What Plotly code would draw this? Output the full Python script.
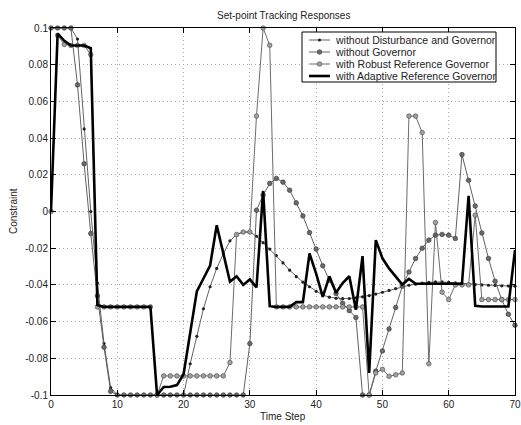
import plotly.graph_objects as go

# ---------------- data ----------------
time_step = list(range(0, 71))

without_dist_and_gov = [
    0.1, 0.1, 0.1, 0.1, 0.094, 0.045, 0.0, -0.039, -0.072, -0.096,
    -0.1, -0.1, -0.1, -0.1, -0.1, -0.1, -0.1, -0.1, -0.1, -0.1, -0.1,
    -0.083, -0.068, -0.053, -0.041, -0.031, -0.023, -0.016, -0.0125, -0.0112, -0.0112,
    -0.0135, -0.017, -0.0205, -0.024, -0.028, -0.032, -0.0355, -0.0385, -0.041, -0.0435,
    -0.0455, -0.0467, -0.0473, -0.0475, -0.0474, -0.047, -0.0465, -0.0458, -0.045, -0.044,
    -0.043, -0.042, -0.041, -0.0402, -0.0396, -0.039, -0.0386, -0.0384, -0.0384, -0.0386,
    -0.0389, -0.0392, -0.0395, -0.0398, -0.040, -0.0402, -0.0403, -0.0405, -0.0406, -0.0407,
]

without_gov = [
    0.1, 0.1, 0.1, 0.1, 0.069, 0.026, -0.012, -0.046, -0.074, -0.098,
    -0.1, -0.1, -0.1, -0.1, -0.1, -0.1, -0.1, -0.1, -0.1, -0.1,
    -0.1, -0.1, -0.1, -0.1, -0.1, -0.1, -0.1, -0.1, -0.1, -0.1,
    -0.072, 0.0007, 0.009, 0.0153, 0.018, 0.016, 0.0116, 0.0047, -0.0024, -0.0115,
    -0.0205, -0.0296, -0.0374, -0.0447, -0.050, -0.054, -0.0578, -0.1, -0.1, -0.087,
    -0.076, -0.064, -0.0523, -0.0407, -0.033, -0.0256, -0.020, -0.0156, -0.0129, -0.0125,
    -0.0129, -0.0147, 0.031, 0.017, 0.003, -0.0117, -0.0256, -0.038, -0.048, -0.056,
    -0.062,
]

robust_gov = [
    0.0, 0.096, 0.091, 0.0905, 0.0905, 0.0905, 0.0855,
    -0.052, -0.052, -0.052, -0.052, -0.052, -0.052, -0.052, -0.052, -0.052,
    -0.1,
    -0.0896, -0.0896, -0.0896, -0.0896, -0.0896, -0.0896, -0.0896, -0.0896, -0.0896, -0.0896,
    -0.0823,
    -0.0125, -0.0112, -0.0112,
    0.052, 0.1, 0.0906,
    -0.052, -0.052, -0.052, -0.052, -0.052, -0.052, -0.052, -0.052, -0.052, -0.052,
    -0.052, -0.052, -0.052, -0.052,
    -0.1, -0.088, -0.086, -0.0898, -0.089, -0.088,
    0.052, 0.052, 0.043,
    -0.083, -0.006, -0.044, -0.048,
    -0.040, -0.040, -0.040,
    -0.002,
    -0.048, -0.048, -0.048, -0.048, -0.048, -0.048,
]

adaptive_gov = [
    0.0, 0.097, 0.093, 0.0905, 0.0905, 0.0905, 0.089, -0.051,
    -0.052, -0.052, -0.052, -0.052, -0.052, -0.052, -0.052, -0.052,
    -0.1, -0.0956, -0.0955, -0.0946, -0.0887,
    -0.066, -0.0435, -0.0365, -0.0295, -0.0075,
    -0.023, -0.0383, -0.0353, -0.040, -0.037,
    -0.0414, 0.0112, -0.0516, -0.052, -0.052, -0.052,
    -0.0494, -0.0494, -0.0229, -0.0338,
    -0.0465, -0.0353, -0.0443, -0.039, -0.0353, -0.0535,
    -0.0243, -0.088, -0.0156, -0.0255,
    -0.031, -0.0353, -0.0398, -0.0367, -0.0394,
    -0.0394, -0.0394, -0.0394, -0.0394, -0.0394, -0.0394, -0.0394,
    0.0085, -0.0514,
    -0.0518, -0.0518, -0.0518, -0.0518, -0.0518,
    -0.021,
]

series_names = [
    "without Disturbance and Governor",
    "without Governor",
    "with Robust Reference Governor",
    "with Adaptive Reference Governor",
]

x_ticks = [0, 10, 20, 30, 40, 50, 60, 70]
y_ticks = [-0.1, -0.08, -0.06, -0.04, -0.02, 0, 0.02, 0.04, 0.06, 0.08, 0.1]
y_tick_labels = ["-0.1", "-0.08", "-0.06", "-0.04", "-0.02", "0",
                 "0.02", "0.04", "0.06", "0.08", "0.1"]

# ---------------- styles ----------------
FONT = "Liberation Sans, Arial, Helvetica, sans-serif"
TXT = "#222222"
styles = [
    dict(line=dict(color="#505050", width=0.9),
         marker=dict(symbol="circle", size=3.2, color="#222222")),
    dict(line=dict(color="#505050", width=0.9),
         marker=dict(symbol="circle", size=4.6, color="#6a6a6a",
                     line=dict(color="#333333", width=0.6))),
    dict(line=dict(color="#5a5a5a", width=0.9),
         marker=dict(symbol="circle", size=4.6, color="#a0a0a0",
                     line=dict(color="#444444", width=0.6))),
    dict(line=dict(color="#000000", width=2.6), marker=None),
]
all_series = [without_dist_and_gov, without_gov, robust_gov, adaptive_gov]

fig = go.Figure()
for name, ys, st in zip(series_names, all_series, styles):
    kw = dict(x=time_step, y=ys, name=name, showlegend=False, cliponaxis=False,
              line=st["line"], hoverinfo="skip")
    if st["marker"] is not None:
        kw["mode"] = "lines+markers"
        kw["marker"] = st["marker"]
    else:
        kw["mode"] = "lines"
    fig.add_trace(go.Scatter(**kw))

# ---------------- layout ----------------
W, H = 521, 425
ml, mr, mt, mb = 51, 6, 28, 30
pw, ph = W - ml - mr, H - mt - mb

def px_x(px):
    return (px - ml) / pw

def px_y(py):
    return (H - mb - py) / ph

fig.update_layout(
    width=W, height=H,
    margin=dict(l=ml, r=mr, t=mt, b=mb, pad=0, autoexpand=False),
    paper_bgcolor="white", plot_bgcolor="white",
    font=dict(family=FONT, size=10, color=TXT),
    showlegend=False,
)

axis_common = dict(
    showline=True, linecolor="black", linewidth=1, mirror="ticks",
    ticks="inside", ticklen=5, tickwidth=1, tickcolor="black",
    showgrid=True, gridcolor="#a8a8a8", griddash="1px,3px", gridwidth=1,
    zeroline=False, automargin=False, ticklabeloverflow="allow",
    tickfont=dict(family=FONT, size=10, color=TXT),
)
fig.update_xaxes(range=[0, 70], tickvals=x_ticks, **axis_common)
fig.update_yaxes(range=[-0.1, 0.1], tickvals=y_ticks, ticktext=y_tick_labels,
                 **axis_common)

# ---------------- titles as text ----------------
annotations = [
    dict(text="Set-point Tracking Responses", xref="paper", yref="paper",
         x=0.5, y=px_y(15), xanchor="center", yanchor="middle",
         showarrow=False, font=dict(family=FONT, size=10, color=TXT)),
    dict(text="Time Step", xref="paper", yref="paper",
         x=0.5, y=px_y(416), xanchor="center", yanchor="middle",
         showarrow=False, font=dict(family=FONT, size=10, color=TXT)),
    dict(text="Constraint", xref="paper", yref="paper",
         x=px_x(13), y=px_y(211), xanchor="center", yanchor="middle",
         textangle=-90, showarrow=False,
         font=dict(family=FONT, size=10, color=TXT)),
]

# ---------------- legend (drawn like the MATLAB box) ----------------
shapes = [dict(type="rect", xref="paper", yref="paper",
               x0=px_x(302), x1=px_x(496), y0=px_y(82), y1=px_y(32),
               line=dict(color="black", width=1), fillcolor="white", layer="above")]
row_y = [40, 52, 64, 76]
for i, (name, st) in enumerate(zip(series_names, styles)):
    yy = px_y(row_y[i])
    shapes.append(dict(type="line", xref="paper", yref="paper",
                       x0=px_x(309), x1=px_x(330), y0=yy, y1=yy,
                       line=dict(color=st["line"]["color"], width=st["line"]["width"]),
                       layer="above"))
    if st["marker"] is not None:
        r = st["marker"]["size"] / 2
        mline = st["marker"].get("line", {"color": st["marker"]["color"], "width": 0})
        shapes.append(dict(type="circle", xref="paper", yref="paper",
                           x0=px_x(319.5 - r), x1=px_x(319.5 + r),
                           y0=px_y(row_y[i] + r), y1=px_y(row_y[i] - r),
                           fillcolor=st["marker"]["color"],
                           line=dict(color=mline["color"], width=mline["width"]),
                           layer="above"))
    annotations.append(dict(text=name, xref="paper", yref="paper",
                            x=px_x(333), y=yy, xanchor="left", yanchor="middle",
                            showarrow=False,
                            font=dict(family=FONT, size=10.5, color=TXT)))
fig.update_layout(shapes=shapes, annotations=annotations)

fig.write_html(
    "out.html",
    config={"displayModeBar": False, "staticPlot": True},
    post_script="document.body.style.margin='0';document.body.style.overflow='hidden';",
)
